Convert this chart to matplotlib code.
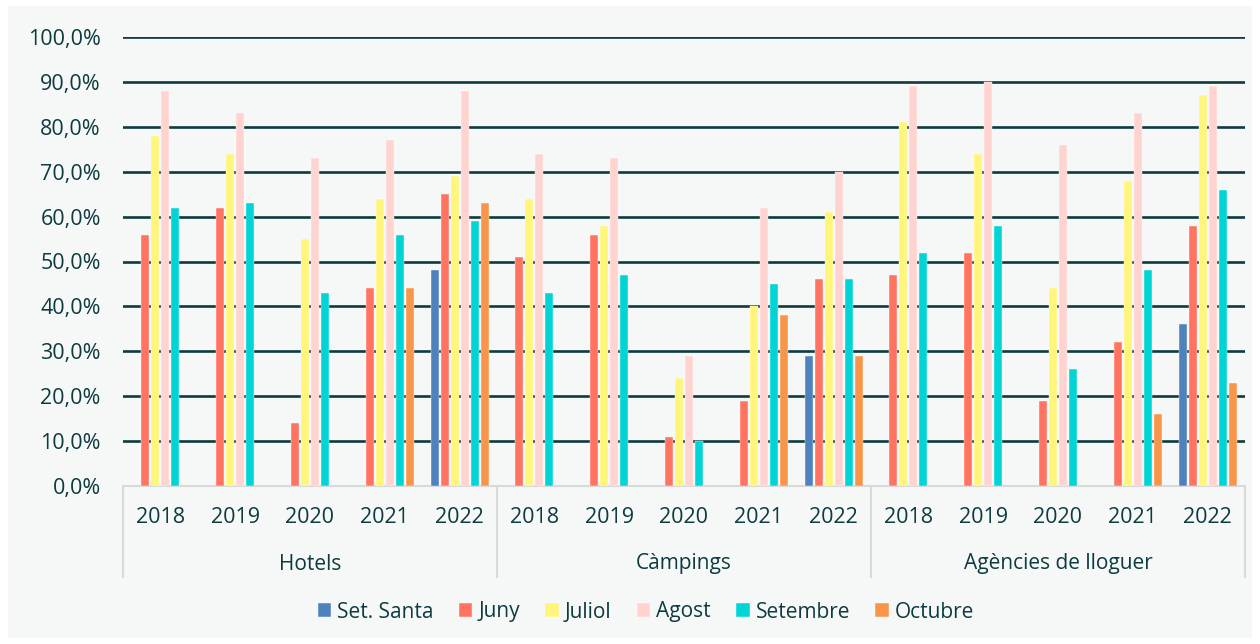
import matplotlib.pyplot as plt
from matplotlib.patches import Rectangle
import numpy as np

plt.rcParams['font.family'] = ['Open Sans', 'DejaVu Sans']

groups = ['Hotels', 'Càmpings', 'Agències de lloguer']
years = ['2018', '2019', '2020', '2021', '2022']
series = ['Set. Santa', 'Juny', 'Juliol', 'Agost', 'Setembre', 'Octubre']
colors = ['#4f81bd', '#ff7360', '#fff57a', '#ffd3cf', '#00d4d4', '#f7954a']

# one value per (group, year); None = no bar
set_santa = [None, None, None, None, 48,  None, None, None, None, 29,  None, None, None, None, 36]
juny      = [56, 62, 14, 44, 65,  51, 56, 11, 19, 46,  47, 52, 19, 32, 58]
juliol    = [78, 74, 55, 64, 69,  64, 58, 24, 40, 61,  81, 74, 44, 68, 87]
agost     = [88, 83, 73, 77, 88,  74, 73, 29, 62, 70,  89, 90, 76, 83, 89]
setembre  = [62, 63, 43, 56, 59,  43, 47, 10, 45, 46,  52, 58, 26, 48, 66]
octubre   = [None, None, None, 44, 63,  None, None, None, 38, 29,  None, None, None, 16, 23]
values = [set_santa, juny, juliol, agost, setembre, octubre]

text_c = '#0d3b3f'
bg = '#f6f8f8'

fig = plt.figure(figsize=(12.6, 6.44), dpi=100, facecolor='white')
fig.patches.append(Rectangle((8/1260, 6/644), 1244/1260, 632/644, transform=fig.transFigure,
                             facecolor=bg, edgecolor='none', zorder=-10))
ax = fig.add_axes([123/1260, 158/644, 1122/1260, 449/644])
ax.set_facecolor(bg)

n = len(years) * len(groups)
x = np.arange(n)
slot = 0.134
w = 0.107
for k, (name, vals) in enumerate(zip(series, values)):
    xs = [x[i] + (k - 2.5) * slot for i in range(n) if vals[i] is not None]
    hs = [vals[i] for i in range(n) if vals[i] is not None]
    ax.bar(xs, hs, width=w, color=colors[k], edgecolor='white', linewidth=0.3,
           zorder=3, label=name)

ax.set_xlim(-0.5, n - 0.5)
ax.set_ylim(0, 100)
ax.set_yticks(range(0, 101, 10))
ax.set_yticklabels([f'{v},0%' for v in range(0, 101, 10)], fontsize=15.5, color=text_c)
for v in range(10, 101, 10):
    ax.axhline(v, color=text_c, lw=1.9, zorder=1)
ax.tick_params(axis='y', length=0, pad=16)

ax.set_xticks(x)
ax.set_xticklabels(years * len(groups), fontsize=15.5, color=text_c)
ax.tick_params(axis='x', length=0, pad=15)

for s in ['top', 'right', 'left']:
    ax.spines[s].set_visible(False)
ax.spines['bottom'].set_color('#d9d9d9')
ax.spines['bottom'].set_linewidth(1.5)

trans = ax.get_xaxis_transform()
for g in range(len(groups) + 1):
    xb = g * len(years) - 0.5
    ax.plot([xb, xb], [0, -91/449], transform=trans, color='#d9d9d9', lw=1.5, clip_on=False)
for g, name in enumerate(groups):
    ax.text(g * len(years) + 2, -78/449, name, transform=trans, ha='center', va='center',
            fontsize=15, color=text_c)

leg = fig.legend(loc='center', bbox_to_anchor=(646/1260, 1 - 612/644), ncol=6, frameon=False,
                 fontsize=15, handlelength=0.65, handleheight=0.65, handletextpad=0.3,
                 columnspacing=1.2)
for t in leg.get_texts():
    t.set_color(text_c)

fig.savefig('out.png', dpi=100, facecolor=fig.get_facecolor())
